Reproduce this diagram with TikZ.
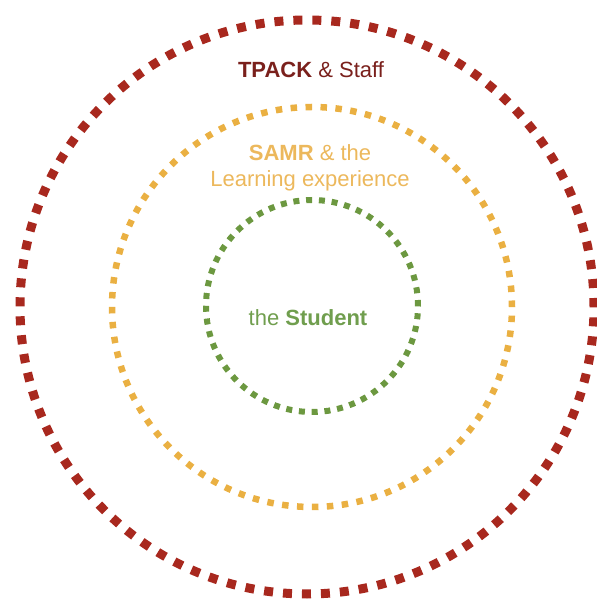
\documentclass[tikz,border=0pt]{standalone}
\usepackage{fontspec}
\setmainfont{Liberation Sans}
\usetikzlibrary{positioning}
\definecolor{tpackred}{RGB}{168,40,30}
\definecolor{tpacktext}{RGB}{122,32,28}
\definecolor{samryellow}{RGB}{234,176,66}
\definecolor{samrtext}{RGB}{236,184,92}
\definecolor{studentgreen}{RGB}{108,152,64}
\definecolor{studenttext}{RGB}{112,158,78}

\begin{document}
\begin{tikzpicture}[x=1pt,y=1pt,
  label/.style={font=\fontsize{22}{26.5}\selectfont,align=center,inner sep=0pt}]
  \useasboundingbox (0,0) rectangle (597,600);
  % three dotted rings, dash period chosen to close evenly
  \draw[tpackred,line width=9pt,dash pattern=on 9pt off 9.98pt] (307,293) circle (287);
  \draw[samryellow,line width=6.5pt,dash pattern=on 6.5pt off 8.46pt] (312,293) circle (200);
  \draw[studentgreen,line width=6pt,dash pattern=on 6pt off 6.8pt] (312,294) circle (106);
  \node[label,tpacktext] (tpack) at (311,530) {\textbf{TPACK} \& Staff};
  \node[label,samrtext] (samr) at (310,432) {\textbf{SAMR} \& the\\Learning experience};
  \node[label,studenttext] (student) at (308,282) {the \textbf{Student}};
\end{tikzpicture}
\end{document}
